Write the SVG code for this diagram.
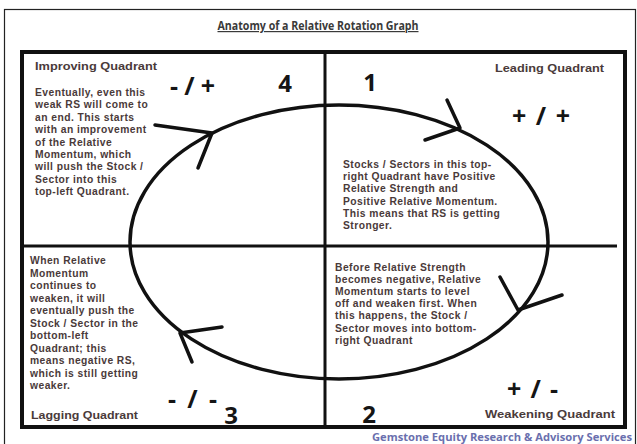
<svg xmlns="http://www.w3.org/2000/svg" width="637" height="444" viewBox="0 0 637 444">
<style>
.frame{fill:none;stroke:#222;stroke-width:1.2}
.box{fill:none;stroke:#111;stroke-width:4}
.div{stroke:#111;stroke-width:3;fill:none}
.curve{fill:none;stroke:#111;stroke-width:3.5;stroke-linecap:round;stroke-linejoin:round}
.title{font-family:"Open Sans","Liberation Sans",sans-serif;font-weight:bold;font-size:12px;fill:#3a3a3a;text-decoration:underline}
.qname{font-family:"Liberation Sans",Arial,sans-serif;font-weight:bold;font-size:10.5px;fill:#4a3a3a}
.body{font-family:"Liberation Sans",Arial,sans-serif;font-weight:bold;font-size:10.3px;letter-spacing:0.45px;fill:#4a3a3a}
.num{font-family:"Open Sans","Liberation Sans",sans-serif;font-weight:bold;font-size:24px;fill:#151515}
.sign{font-family:"Open Sans","Liberation Sans",sans-serif;font-weight:bold;font-size:25px;fill:#151515}
.foot{font-family:"Open Sans","Liberation Sans",sans-serif;font-weight:bold;font-size:10px;fill:#6a6fae}
</style>
<rect width="637" height="444" fill="#ffffff"/>
<rect class="frame" x="4.5" y="9.5" width="631" height="445"/>
<text class="title" x="318" y="30" text-anchor="middle" textLength="201" lengthAdjust="spacingAndGlyphs">Anatomy of a Relative Rotation Graph</text>
<g id="grid">
<rect class="box" x="22" y="52" width="603" height="375"/>
<line class="div" x1="325" y1="52" x2="325" y2="427"/>
<line class="div" x1="20" y1="246" x2="617" y2="246"/>
</g>
<g id="connectors">
<ellipse class="curve" cx="339" cy="242" rx="209" ry="137"/>
<path class="curve" d="M155,125 L212,133 L198,168"/>
<path class="curve" d="M447,100 L460,128 L425,140"/>
<path class="curve" d="M500,277 L518,310 L562,295"/>
<path class="curve" d="M222,327 L180,333 L192,362"/>
</g>
<g id="improving">
<text class="qname" x="35" y="70" textLength="122" lengthAdjust="spacingAndGlyphs">Improving Quadrant</text>
<text class="body" x="35" y="96">Eventually, even this</text>
<text class="body" x="35" y="108.4">weak RS will come to</text>
<text class="body" x="35" y="120.8">an end. This starts</text>
<text class="body" x="35" y="133.2">with an improvement</text>
<text class="body" x="35" y="145.6">of the Relative</text>
<text class="body" x="35" y="158">Momentum, which</text>
<text class="body" x="35" y="170.4">will push the Stock /</text>
<text class="body" x="35" y="182.8">Sector into this</text>
<text class="body" x="35" y="195.2">top-left Quadrant.</text>
<text class="sign" x="170" y="95" textLength="45" lengthAdjust="spacing">- / +</text>
<text class="num" x="285" y="92" text-anchor="middle">4</text>
</g>
<g id="leading">
<text class="qname" x="495" y="72" textLength="109" lengthAdjust="spacingAndGlyphs">Leading Quadrant</text>
<text class="num" x="370" y="91" text-anchor="middle">1</text>
<text class="sign" x="512" y="125" textLength="58" lengthAdjust="spacing">+ / +</text>
<text class="body" x="343" y="168">Stocks / Sectors in this top-</text>
<text class="body" x="343" y="180.2">right Quadrant have Positive</text>
<text class="body" x="343" y="192.4">Relative Strength and</text>
<text class="body" x="343" y="204.6">Positive Relative Momentum.</text>
<text class="body" x="343" y="216.8">This means that RS is getting</text>
<text class="body" x="343" y="229">Stronger.</text>
</g>
<g id="lagging">
<text class="body" x="30" y="264">When Relative</text>
<text class="body" x="30" y="276.5">Momentum</text>
<text class="body" x="30" y="289">continues to</text>
<text class="body" x="30" y="301.5">weaken, it will</text>
<text class="body" x="30" y="314">eventually push the</text>
<text class="body" x="30" y="326.5">Stock / Sector in the</text>
<text class="body" x="30" y="339">bottom-left</text>
<text class="body" x="30" y="351.5">Quadrant; this</text>
<text class="body" x="30" y="364">means negative RS,</text>
<text class="body" x="30" y="376.5">which is still getting</text>
<text class="body" x="30" y="389">weaker.</text>
<text class="qname" x="31" y="419" textLength="107" lengthAdjust="spacingAndGlyphs">Lagging Quadrant</text>
<text class="sign" x="168" y="408" textLength="49" lengthAdjust="spacing">- / -</text>
<text class="num" x="231" y="424" text-anchor="middle">3</text>
</g>
<g id="weakening">
<text class="body" x="335" y="271">Before Relative Strength</text>
<text class="body" x="335" y="283.1">becomes negative, Relative</text>
<text class="body" x="335" y="295.2">Momentum starts to level</text>
<text class="body" x="335" y="307.3">off and weaken first. When</text>
<text class="body" x="335" y="319.4">this happens, the Stock /</text>
<text class="body" x="335" y="331.5">Sector moves into bottom-</text>
<text class="body" x="335" y="343.6">right Quadrant</text>
<text class="num" x="369" y="423" text-anchor="middle">2</text>
<text class="sign" x="507" y="398" textLength="51" lengthAdjust="spacing">+ / -</text>
<text class="qname" x="485" y="418" textLength="130" lengthAdjust="spacingAndGlyphs">Weakening Quadrant</text>
</g>
<text class="foot" x="372" y="441" textLength="260" lengthAdjust="spacingAndGlyphs">Gemstone Equity Research &amp; Advisory Services</text>
</svg>
